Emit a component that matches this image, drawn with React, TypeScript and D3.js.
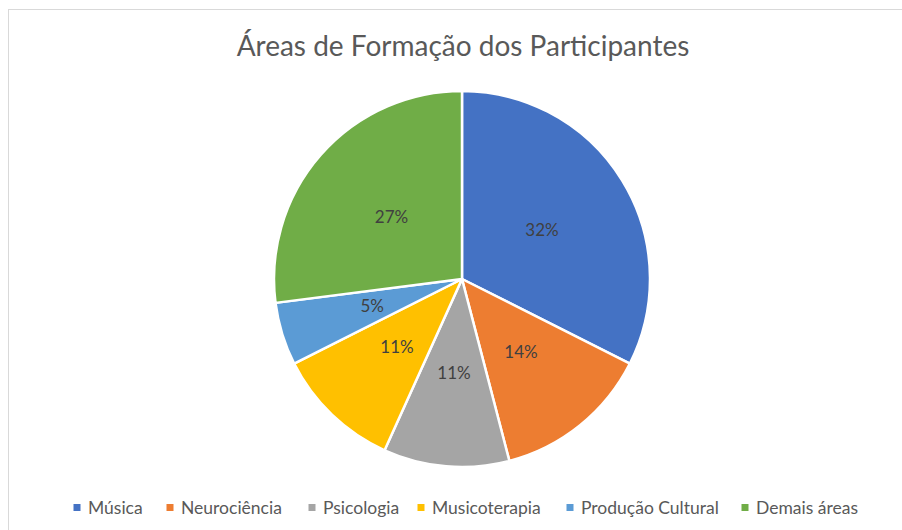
import React from "react";
import * as d3 from "d3";

const categories = ["Música", "Neurociência", "Psicologia", "Musicoterapia", "Produção Cultural", "Demais áreas"];
const values = [12, 5, 4, 4, 2, 10];
const colors = ["#4472C4", "#ED7D31", "#A5A5A5", "#FFC000", "#5B9BD5", "#70AD47"];
const title = "Áreas de Formação dos Participantes";

const W = 902, H = 530;
const cx = 462, cy = 279, R = 188;
const FONT = "Lato, 'Open Sans', sans-serif";

export default function App() {
  const total = d3.sum(values);
  const pie = d3.pie<number>().sort(null).value((d) => d);
  const arcs = pie(values);
  const arc = d3.arc<d3.PieArcDatum<number>>().innerRadius(0).outerRadius(R);
  const legendX = [77, 170, 312, 421, 570, 745];
  return (
    <svg width={W} height={H} style={{ position: "absolute", left: 0, top: 0 }}>
      <rect x={0} y={0} width={W} height={H} fill="#fff" />
      <rect x={8.5} y={9.5} width={W + 20} height={H + 20} fill="#fff" stroke="#d9d9d9" strokeWidth={1} />
      <text x={463} y={56} textAnchor="middle" fontFamily={FONT} fontSize={28} fill="#595959">{title}</text>
      <g transform={`translate(${cx},${cy})`}>
        {arcs.map((a, i) => (
          <path key={i} d={arc(a) || ""} fill={colors[i]} stroke="#fff" strokeWidth={2.5} strokeLinejoin="round" />
        ))}
        {arcs.map((a, i) => {
          const [x, y] = arc.centroid(a);
          return (
            <text key={"l" + i} x={x} y={y} dy="0.35em" textAnchor="middle" fontFamily={FONT} fontSize={17} fill="#404040">
              {Math.round((values[i] / total) * 100) + "%"}
            </text>
          );
        })}
      </g>
      {categories.map((c, i) => (
        <g key={"g" + i}>
          <rect x={legendX[i] - 3.5} y={504} width={7} height={7} fill={colors[i]} />
          <text x={legendX[i] + 11} y={508} dy="0.35em" fontFamily={FONT} fontSize={17.5} fill="#595959">{c}</text>
        </g>
      ))}
    </svg>
  );
}
